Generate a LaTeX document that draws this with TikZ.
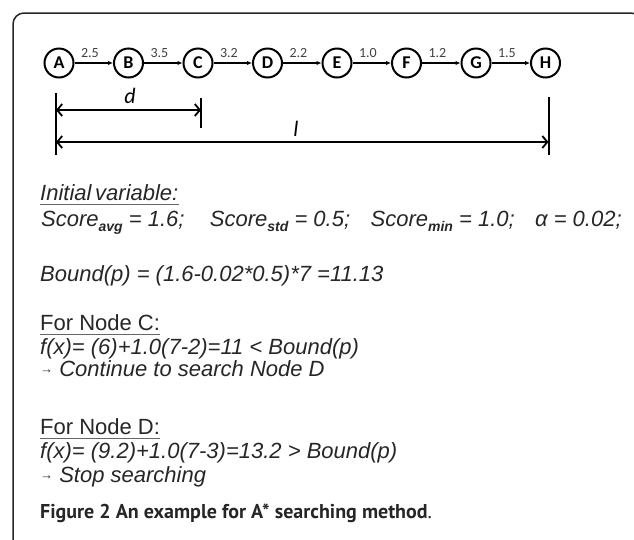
\documentclass[tikz,border=0pt]{standalone}
\usepackage{fontspec}
\setmainfont{Liberation Sans}
\newfontfamily\calfont{Carlito}
\newfontfamily\capfont{PT Sans}
\usetikzlibrary{arrows.meta}
\newcommand{\sbx}[1]{\raisebox{-5pt}{\fontsize{14}{14}\selectfont\bfseries\itshape #1}}
\newcommand{\smarr}{\raisebox{3pt}{\fontsize{13}{13}\selectfont →}}
\begin{document}
\begin{tikzpicture}[x=1pt,y=-1pt,
  nd/.style={circle,draw,line width=2pt,minimum size=29pt,inner sep=0pt,font=\calfont\bfseries\fontsize{18}{18}\selectfont},
  edge/.style={-{Latex[length=5pt,width=4.5pt]},line width=1.2pt},
  wt/.style={font=\calfont\fontsize{14}{14}\selectfont,text=black!75,inner sep=0pt},
  dimln/.style={{Straight Barb[length=5pt,width=12pt,line width=1.8pt]}-{Straight Barb[length=5pt,width=12pt,line width=1.8pt]},line width=2pt},
  tickln/.style={line width=2pt},
  dlab/.style={font=\calfont\itshape\fontsize{22}{22}\selectfont,inner sep=0pt,anchor=base},
  txt/.style={anchor=base west,inner sep=0pt,font=\itshape\fontsize{22}{22}\selectfont,text=black!85},
  ultx/.style={anchor=base west,inner sep=0pt,font=\fontsize{22}{22}\selectfont,text=black!85},
  uline/.style={line width=0.9pt,black!60}
]
\useasboundingbox (0,0) rectangle (634,539);
\draw[line width=1.5pt,rounded corners=11pt,black!85] (13,620) -- (13,13) -- (642,13) -- (642,620);
% nodes
\foreach \n/\x in {A/59,B/128.5,C/198,D/267.5,E/337,F/406.5,G/476,H/545.5}
  \node[nd] (\n) at (\x,63) {\n};
% edges
\foreach \a/\b/\w in {A/B/2.5,B/C/3.5,C/D/3.2,D/E/2.2,E/F/1.0,F/G/1.2,G/H/1.5}{
  \draw[edge] (\a) -- (\b) node[wt,pos=0.4,above=5pt] {\w};
}
% dimension lines
\coordinate (ta1) at ([xshift=-3pt]A.center |- 0,93);
\coordinate (ta2) at ([xshift=-3pt]A.center |- 0,155);
\coordinate (tc1) at ([xshift=3pt]C.center |- 0,98);
\coordinate (tc2) at ([xshift=3pt]C.center |- 0,128);
\coordinate (th1) at ([xshift=3pt]H.center |- 0,97);
\coordinate (th2) at ([xshift=3pt]H.center |- 0,155);
\draw[tickln] (ta1) -- (ta2);
\draw[tickln] (tc1) -- (tc2);
\draw[tickln] (th1) -- (th2);
\coordinate (da) at (ta1 |- 0,110);
\coordinate (dc) at (tc1 |- 0,110);
\coordinate (la) at (ta1 |- 0,142);
\coordinate (lh) at (th1 |- 0,142);
\draw[dimln] (da) -- (dc);
\draw[dimln] (la) -- (lh);
\node[dlab] (dl) at (130,103) {d};
\node[dlab] (ll) at (296,136) {l};
% texts
\node[txt] (iv) at (40,200) {Initial\,variable:};
\draw[uline] ([yshift=-4pt]iv.base west) -- ([yshift=-4pt]iv.base east);
\node[txt] (s1) at (41,226) {Score\sbx{avg} = 1.6;};
\node[txt] (s2) at ([xshift=25pt]s1.base east) {Score\sbx{std} = 0.5;};
\node[txt] (s3) at ([xshift=20pt]s2.base east) {Score\sbx{min} = 1.0;};
\node[txt] (s4) at ([xshift=20pt]s3.base east) {α = 0.02;};
\node[txt] (bd) at (40,281) {Bound(p) = (1.6-0.02*0.5)*7 =11.13};
\node[ultx] (nc) at (40,330) {For Node C:};
\draw[uline] ([yshift=-4pt]nc.base west) -- ([yshift=-4pt]nc.base east);
\node[txt] (fc) at (40,354) {f(x)= (6)+1.0(7-2)=11 < Bound(p)};
\node[txt] (cc) at (40,376) {\smarr\ Continue to search Node D};
\node[ultx] (ndd) at (40,434) {For Node D:};
\draw[uline] ([yshift=-4pt]ndd.base west) -- ([yshift=-4pt]ndd.base east);
\node[txt] (fd) at (40,458) {f(x)= (9.2)+1.0(7-3)=13.2 > Bound(p)};
\node[txt] (sd) at (40,482) {\smarr\ Stop searching};
\node[anchor=base west,inner sep=0pt,font=\capfont\fontsize{20}{20}\selectfont,text=black!85] (cap) at (40,518) {\textbf{Figure 2 An example for A* searching method}.};
\end{tikzpicture}
\end{document}
